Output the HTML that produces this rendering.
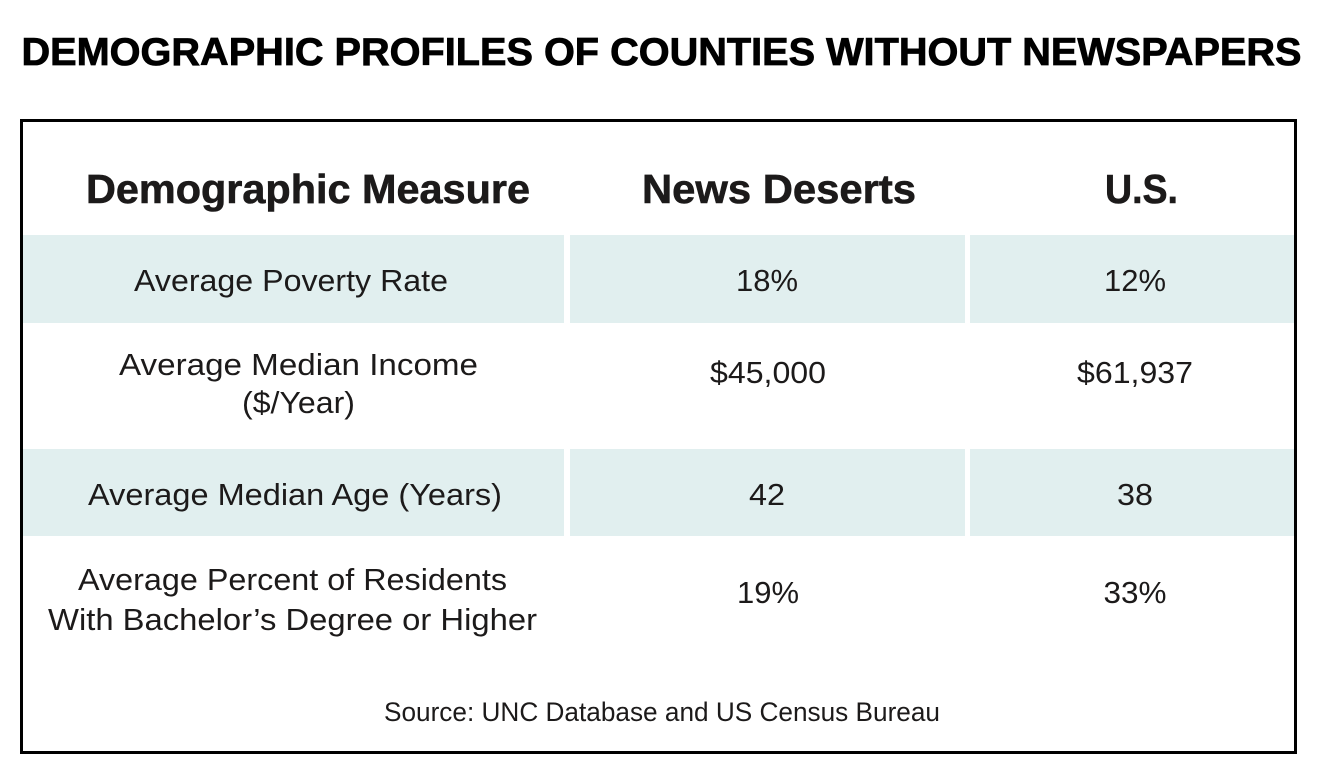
<!DOCTYPE html>
<html>
<head>
<meta charset="utf-8">
<style>
  html, body { margin:0; padding:0; background:#ffffff; }
  svg { display:block; }
  .t { font-family: "Liberation Sans", Arial, sans-serif; fill:#1c1a1a; }
  .b { font-weight:bold; }
</style>
</head>
<body>
<svg width="1336" height="778" viewBox="0 0 1336 778" xmlns="http://www.w3.org/2000/svg">
  <rect x="0" y="0" width="1336" height="778" fill="#ffffff"/>

  <!-- Title -->
  <text class="t b" x="21.5" y="65" font-size="39" style="fill:#000" stroke="#000" stroke-width="0.8" textLength="1280" lengthAdjust="spacingAndGlyphs">DEMOGRAPHIC PROFILES OF COUNTIES WITHOUT NEWSPAPERS</text>

  <!-- Shaded rows -->
  <g fill="#e1efef">
    <rect x="23" y="235" width="541" height="88"/>
    <rect x="570" y="235" width="395" height="88"/>
    <rect x="970" y="235" width="324" height="88"/>
    <rect x="23" y="449" width="541" height="87"/>
    <rect x="570" y="449" width="395" height="87"/>
    <rect x="970" y="449" width="324" height="87"/>
  </g>

  <!-- Box border -->
  <rect x="21.5" y="120.5" width="1274" height="632" fill="none" stroke="#000" stroke-width="3"/>

  <!-- Header -->
  <text class="t b" x="86" y="203" font-size="41" stroke="#1c1a1a" stroke-width="0.6" textLength="444" lengthAdjust="spacingAndGlyphs">Demographic Measure</text>
  <text class="t b" x="642" y="203" font-size="41" stroke="#1c1a1a" stroke-width="0.6" textLength="274" lengthAdjust="spacingAndGlyphs">News Deserts</text>
  <text class="t b" x="1105" y="203" font-size="41" stroke="#1c1a1a" stroke-width="0.6" textLength="73" lengthAdjust="spacingAndGlyphs">U.S.</text>

  <!-- Row 1 -->
  <text class="t" x="134" y="291" font-size="31" textLength="314" lengthAdjust="spacingAndGlyphs">Average Poverty Rate</text>
  <text class="t" x="767" y="291" font-size="31" text-anchor="middle" textLength="62" lengthAdjust="spacingAndGlyphs">18%</text>
  <text class="t" x="1135" y="291" font-size="31" text-anchor="middle" textLength="62" lengthAdjust="spacingAndGlyphs">12%</text>

  <!-- Row 2 -->
  <text class="t" x="119" y="375" font-size="31" textLength="359" lengthAdjust="spacingAndGlyphs">Average Median Income</text>
  <text class="t" x="242" y="413" font-size="31" textLength="113" lengthAdjust="spacingAndGlyphs">($/Year)</text>
  <text class="t" x="768" y="383" font-size="31" text-anchor="middle" textLength="116" lengthAdjust="spacingAndGlyphs">$45,000</text>
  <text class="t" x="1135" y="383" font-size="31" text-anchor="middle" textLength="116" lengthAdjust="spacingAndGlyphs">$61,937</text>

  <!-- Row 3 -->
  <text class="t" x="88" y="505" font-size="31" textLength="414" lengthAdjust="spacingAndGlyphs">Average Median Age (Years)</text>
  <text class="t" x="767" y="505" font-size="31" text-anchor="middle" textLength="36" lengthAdjust="spacingAndGlyphs">42</text>
  <text class="t" x="1135" y="505" font-size="31" text-anchor="middle" textLength="36" lengthAdjust="spacingAndGlyphs">38</text>

  <!-- Row 4 -->
  <text class="t" x="78" y="590" font-size="31" textLength="429" lengthAdjust="spacingAndGlyphs">Average Percent of Residents</text>
  <text class="t" x="48" y="630" font-size="31" textLength="489" lengthAdjust="spacingAndGlyphs">With Bachelor’s Degree or Higher</text>
  <text class="t" x="768" y="603" font-size="31" text-anchor="middle" textLength="62" lengthAdjust="spacingAndGlyphs">19%</text>
  <text class="t" x="1135" y="603" font-size="31" text-anchor="middle" textLength="63" lengthAdjust="spacingAndGlyphs">33%</text>

  <!-- Source -->
  <text class="t" x="384" y="721" font-size="27" textLength="556" lengthAdjust="spacingAndGlyphs">Source: UNC Database and US Census Bureau</text>
</svg>
</body>
</html>
